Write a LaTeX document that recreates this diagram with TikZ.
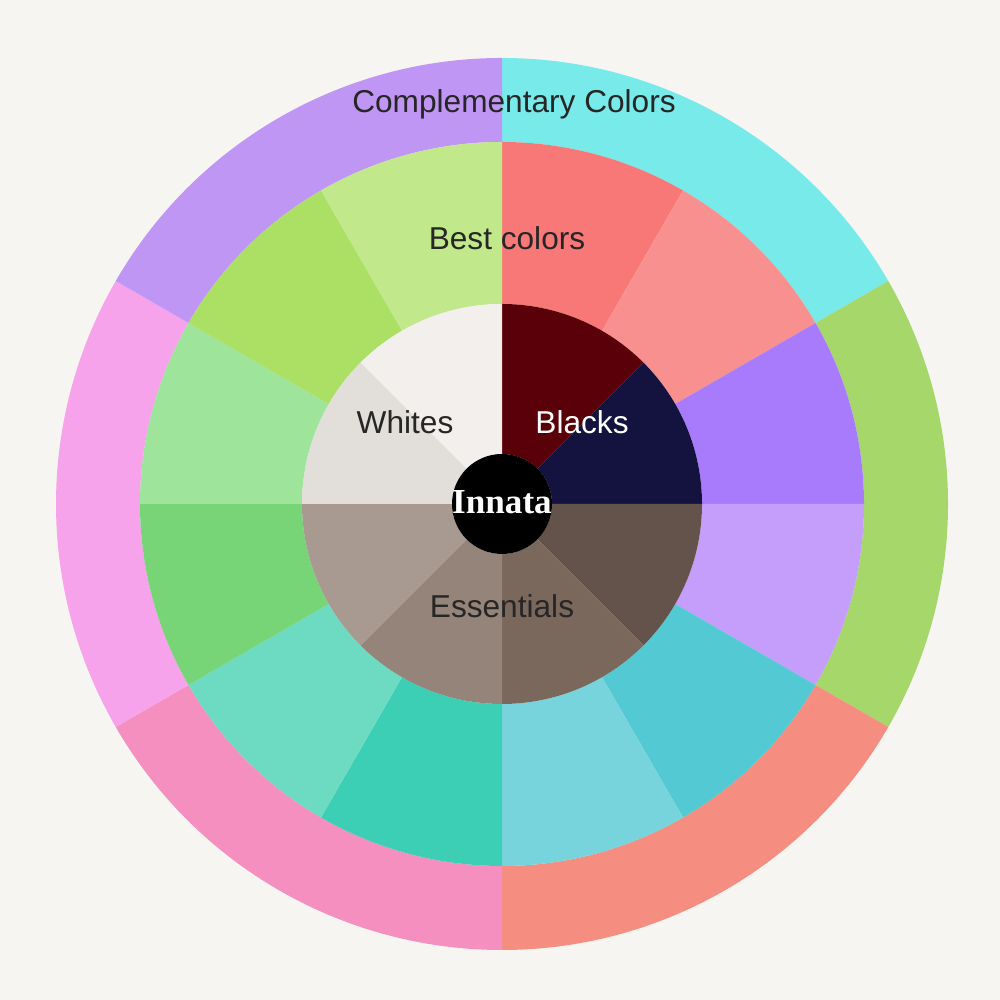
\documentclass[tikz,border=0pt]{standalone}
\usepackage{fontspec}
\setmainfont{Liberation Sans}
\newfontfamily\serifb{Liberation Serif}
\definecolor{bg}{HTML}{F6F5F1}
\newcommand{\sect}[5]{\fill[#5] (#1:#3) arc[start angle=#1,end angle=#2,radius=#3] -- (#2:#4) arc[start angle=#2,end angle=#1,radius=#4] -- cycle;}
\tikzset{lbl/.style={font=\fontsize{9}{10}\selectfont, text=black!85}}
\begin{document}
\begin{tikzpicture}
\fill[bg] (0,0) rectangle (10,10);
\useasboundingbox (0,0) rectangle (10,10);
\begin{scope}[shift={(5.02,4.96)}]
% outer ring
\sect{90}{30}{3.62}{4.46}{cyan!0!white,fill={rgb,255:red,120;green,234;blue,234}}
\sect{30}{-30}{3.62}{4.46}{fill={rgb,255:red,165;green,215;blue,106}}
\sect{-30}{-90}{3.62}{4.46}{fill={rgb,255:red,245;green,141;blue,128}}
\sect{-90}{-150}{3.62}{4.46}{fill={rgb,255:red,244;green,143;blue,191}}
\sect{-150}{-210}{3.62}{4.46}{fill={rgb,255:red,247;green,163;blue,236}}
\sect{150}{90}{3.62}{4.46}{fill={rgb,255:red,192;green,150;blue,245}}
% middle ring
\sect{90}{60}{2}{3.62}{fill={rgb,255:red,248;green,120;blue,120}}
\sect{60}{30}{2}{3.62}{fill={rgb,255:red,249;green,144;blue,144}}
\sect{30}{0}{2}{3.62}{fill={rgb,255:red,168;green,123;blue,253}}
\sect{0}{-30}{2}{3.62}{fill={rgb,255:red,197;green,157;blue,251}}
\sect{-30}{-60}{2}{3.62}{fill={rgb,255:red,83;green,201;blue,212}}
\sect{-60}{-90}{2}{3.62}{fill={rgb,255:red,120;green,212;blue,220}}
\sect{-90}{-120}{2}{3.62}{fill={rgb,255:red,60;green,207;blue,181}}
\sect{-120}{-150}{2}{3.62}{fill={rgb,255:red,109;green,219;blue,194}}
\sect{-150}{-180}{2}{3.62}{fill={rgb,255:red,120;green,213;blue,119}}
\sect{180}{150}{2}{3.62}{fill={rgb,255:red,158;green,228;blue,154}}
\sect{150}{120}{2}{3.62}{fill={rgb,255:red,171;green,224;blue,101}}
\sect{120}{90}{2}{3.62}{fill={rgb,255:red,193;green,232;blue,138}}
% inner ring
\sect{90}{45}{0.5}{2}{fill={rgb,255:red,90;green,0;blue,8}}
\sect{45}{0}{0.5}{2}{fill={rgb,255:red,20;green,19;blue,63}}
\sect{0}{-45}{0.5}{2}{fill={rgb,255:red,100;green,83;blue,74}}
\sect{-45}{-90}{0.5}{2}{fill={rgb,255:red,123;green,104;blue,93}}
\sect{-90}{-135}{0.5}{2}{fill={rgb,255:red,148;green,132;blue,121}}
\sect{-135}{-180}{0.5}{2}{fill={rgb,255:red,168;green,154;blue,145}}
\sect{180}{135}{0.5}{2}{fill={rgb,255:red,226;green,222;blue,218}}
\sect{135}{90}{0.5}{2}{fill={rgb,255:red,242;green,239;blue,236}}
\fill[black] (0,0) circle (0.5);
\node[font=\serifb\bfseries\fontsize{10}{12}\selectfont, text=white] (c) at (0,0.02) {Innata};
\node[lbl] (comp) at (0.12,4.0) {Complementary Colors};
\node[lbl] (best) at (0.05,2.66) {Best colors};
\node[lbl] (wh) at (-0.97,0.82) {Whites};
\node[lbl, text=white] (bl) at (0.8,0.82) {Blacks};
\node[lbl] (es) at (0,-1.02) {Essentials};
\end{scope}
\end{tikzpicture}
\end{document}
